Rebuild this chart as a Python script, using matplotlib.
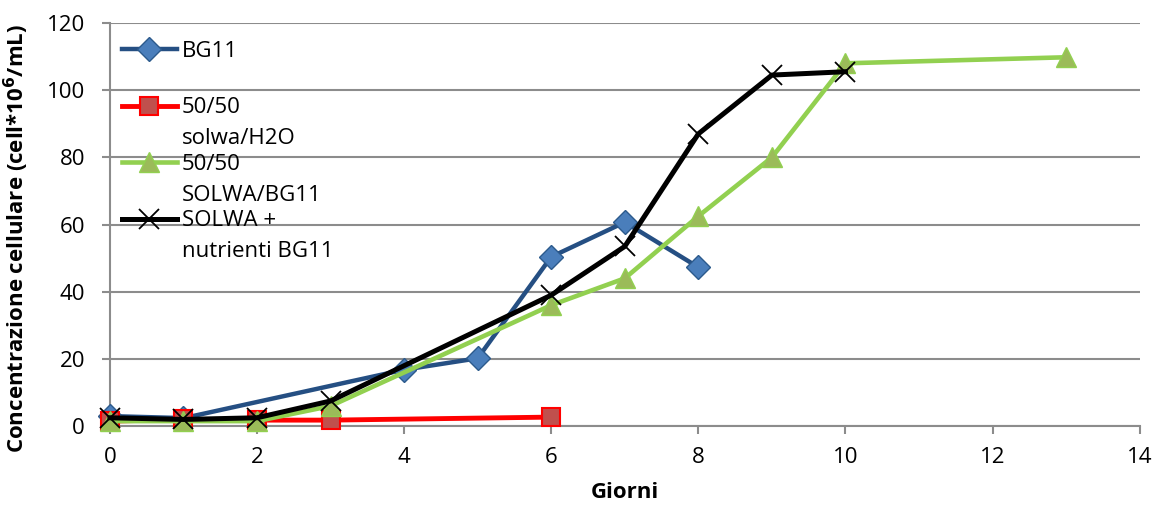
import matplotlib.pyplot as plt

plt.rcParams['font.family'] = ['Open Sans', 'DejaVu Sans']

# giorni / concentrazione (cell*10^6/mL)
bg11_x = [0, 1, 4, 5, 6, 7, 8]
bg11_y = [3, 2.4, 16.8, 20.2, 50.4, 60.7, 47.3]

h2o_x = [0, 1, 2, 3, 6]
h2o_y = [1.5, 2.0, 1.8, 1.8, 2.7]

solwa_bg11_x = [0, 1, 2, 3, 6, 7, 8, 9, 10, 13]
solwa_bg11_y = [1.5, 1.5, 1.5, 6, 36, 44, 62.5, 80, 108, 109.8]

nutr_x = [0, 1, 2, 3, 6, 7, 8, 9, 10]
nutr_y = [2.5, 2.0, 2.5, 7.5, 39, 53.5, 87, 104.5, 105.5]

# legend labels, excel-style wrapping (first line, second line)
labels = [('BG11', ''), ('50/50', 'solwa/H2O'), ('50/50', 'SOLWA/BG11'),
          ('SOLWA +', 'nutrienti BG11')]

fig, ax = plt.subplots(figsize=(11.57, 5.11), dpi=100)
fig.subplots_adjust(left=0.095, right=0.985, top=0.955, bottom=0.166)

ax.plot(bg11_x, bg11_y, color='#254f83', lw=3.2, marker='D', ms=12,
        mfc='#4a7ebb', mec='#2c5a8c', mew=1, label=labels[0][0], zorder=3, clip_on=False)
ax.plot(h2o_x, h2o_y, color='#ff0000', lw=3.5, marker='s', ms=13,
        mfc='#c0504d', mec='#ff0000', mew=1.5, label=labels[1][0], zorder=3, clip_on=False)
ax.plot(solwa_bg11_x, solwa_bg11_y, color='#92d050', lw=3.3, marker='^', ms=14,
        mfc='#9bbb59', mec='#92d050', mew=1, label=labels[2][0], zorder=3, clip_on=False)
ax.plot(nutr_x, nutr_y, color='black', lw=3.6, marker='x', ms=14,
        mew=1.3, label=labels[3][0], zorder=4, clip_on=False)

ax.set_xlim(0, 14)
ax.set_ylim(0, 120)
ax.set_xticks(range(0, 15, 2))
ax.set_yticks(range(0, 121, 20))
ax.yaxis.grid(True, color='#8c8c8c', lw=1.5)
ax.set_axisbelow(True)
for s in ['top', 'right']:
    ax.spines[s].set_visible(False)
for s in ['left', 'bottom']:
    ax.spines[s].set_color('#8c8c8c')
    ax.spines[s].set_linewidth(1.5)
ax.tick_params(colors='#8c8c8c', labelcolor='black', labelsize=16, length=6, width=1.5)
ax.tick_params(axis='x', pad=9)
ax.tick_params(axis='y', pad=12)

ax.set_xlabel('Giorni', fontsize=16, fontweight='bold', labelpad=10)
ax.set_ylabel(r'Concentrazione cellulare (cell*10$^\mathbf{6}$/mL)', fontsize=16,
              fontweight='bold')
ax.yaxis.set_label_coords(-0.077, 0.465)

leg = ax.legend(loc='upper left', bbox_to_anchor=(-0.006, 1.0), frameon=False, fontsize=16,
                handlelength=2.5, handletextpad=0.2, labelspacing=1.6, borderaxespad=0.4)
# second line of each label hangs under the first, like excel does it
for txt, (_, second) in zip(leg.get_texts(), labels):
    if second:
        ax.annotate(second, xy=(0, 0.5), xycoords=txt, xytext=(0, -31),
                    textcoords='offset pixels', va='center', ha='left', fontsize=16,
                    zorder=10, annotation_clip=False)

fig.savefig('out.png')
